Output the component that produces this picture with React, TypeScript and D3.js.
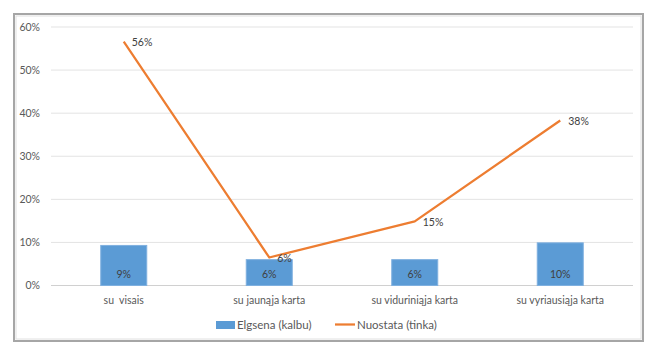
import { useEffect, useRef } from "react";
import * as d3 from "d3";

const categories = ["su  visais", "su jaunąja karta", "su viduriniąja karta", "su vyriausiąja karta"];
const elgsena = [0.093, 0.06, 0.06, 0.099];
const nuostata = [0.566, 0.065, 0.149, 0.383];
const elgsenaLabels = ["9%", "6%", "6%", "10%"];
const nuostataLabels = ["56%", "6%", "15%", "38%"];
const yTicks = [0, 0.1, 0.2, 0.3, 0.4, 0.5, 0.6];
const seriesNames = ["Elgsena (kalbu)", "Nuostata (tinka)"];

export default function App() {
    const svgRef = useRef<SVGSVGElement | null>(null);

    useEffect(() => {
        if (!svgRef.current) return;
        d3.select(svgRef.current).selectAll("*").remove();

        const width = 650;
        const height = 353;
        const font = "Lato, 'Open Sans', sans-serif";
        const svg = d3.select(svgRef.current).attr("width", width).attr("height", height);

        svg.append("rect").attr("width", width).attr("height", height).attr("fill", "#fff");

        // Frame
        svg.append("rect")
            .attr("x", 14).attr("y", 14).attr("width", 629).attr("height", 327)
            .attr("fill", "#fff").attr("stroke", "#a6a6a6").attr("stroke-width", 2);
        svg.append("rect")
            .attr("x", 16).attr("y", 16).attr("width", 625).attr("height", 323)
            .attr("fill", "none").attr("stroke", "#e0e0e0").attr("stroke-width", 1);

        const left = 51, right = 633, top = 27, bottom = 285.5;

        const x = d3.scaleBand().domain(categories).range([left, right]).paddingInner(0).paddingOuter(0);
        const y = d3.scaleLinear().domain([0, 0.6]).range([bottom, top]);

        // Gridlines
        svg.append("g")
            .selectAll("line")
            .data(yTicks)
            .enter()
            .append("line")
            .attr("x1", left).attr("x2", right)
            .attr("y1", (d) => y(d)).attr("y2", (d) => y(d))
            .attr("stroke", (d) => (d === 0 ? "#d0d0d0" : "#e3e3e3"))
            .attr("stroke-width", 1);

        // Y tick labels
        svg.append("g")
            .selectAll("text")
            .data(yTicks)
            .enter()
            .append("text")
            .attr("x", 40)
            .attr("y", (d) => y(d))
            .attr("dy", "0.35em")
            .attr("text-anchor", "end")
            .attr("font-family", font)
            .attr("font-size", "10.5px")
            .attr("fill", "#595959")
            .text((d) => `${Math.round(d * 100)}%`);

        // X labels
        svg.append("g")
            .selectAll("text")
            .data(categories)
            .enter()
            .append("text")
            .attr("x", (d) => (x(d) || 0) + x.bandwidth() / 2)
            .attr("y", 300)
            .attr("dy", "0.35em")
            .attr("text-anchor", "middle")
            .attr("font-family", font)
            .attr("font-size", "10.5px")
            .attr("fill", "#595959")
            .style("white-space", "pre")
            .text((d) => d);

        // Bars
        const barW = 46;
        svg.append("g")
            .selectAll("rect")
            .data(elgsena)
            .enter()
            .append("rect")
            .attr("x", (d, i) => (x(categories[i]) || 0) + x.bandwidth() / 2 - barW / 2)
            .attr("y", (d) => y(d))
            .attr("width", barW)
            .attr("height", (d) => y(0) - y(d))
            .attr("fill", "#5b9bd5")
            .attr("stroke", "#7fb0df")
            .attr("stroke-width", 1);

        svg.append("g")
            .selectAll("text")
            .data(elgsenaLabels)
            .enter()
            .append("text")
            .attr("x", (d, i) => (x(categories[i]) || 0) + x.bandwidth() / 2)
            .attr("y", 274)
            .attr("dy", "0.35em")
            .attr("text-anchor", "middle")
            .attr("font-family", font)
            .attr("font-size", "10.5px")
            .attr("fill", "#404040")
            .text((d) => d);

        // Line
        const line = d3
            .line<number>()
            .x((d, i) => (x(categories[i]) || 0) + x.bandwidth() / 2)
            .y((d) => y(d));
        svg.append("path")
            .datum(nuostata)
            .attr("d", line)
            .attr("fill", "none")
            .attr("stroke", "#ed7d31")
            .attr("stroke-width", 2.25)
            .attr("stroke-linejoin", "round");

        svg.append("g")
            .selectAll("text")
            .data(nuostataLabels)
            .enter()
            .append("text")
            .attr("x", (d, i) => (x(categories[i]) || 0) + x.bandwidth() / 2 + 8)
            .attr("y", (d, i) => y(nuostata[i]) + 1)
            .attr("dy", "0.35em")
            .attr("font-family", font)
            .attr("font-size", "10.5px")
            .attr("fill", "#404040")
            .text((d) => d);

        // Legend
        const lg = svg.append("g").attr("font-family", font).attr("font-size", "11.5px").attr("fill", "#595959");
        lg.append("rect").attr("x", 216).attr("y", 321).attr("width", 19).attr("height", 8).attr("fill", "#5b9bd5");
        lg.append("text").attr("x", 237).attr("y", 325).attr("dy", "0.35em").text(seriesNames[0]);
        lg.append("line").attr("x1", 335).attr("x2", 355).attr("y1", 324.5).attr("y2", 324.5)
            .attr("stroke", "#ed7d31").attr("stroke-width", 2.25);
        lg.append("text").attr("x", 357).attr("y", 325).attr("dy", "0.35em").text(seriesNames[1]);
    }, []);

    return <svg ref={svgRef} style={{ position: "absolute", left: 0, top: 0 }} />;
}
